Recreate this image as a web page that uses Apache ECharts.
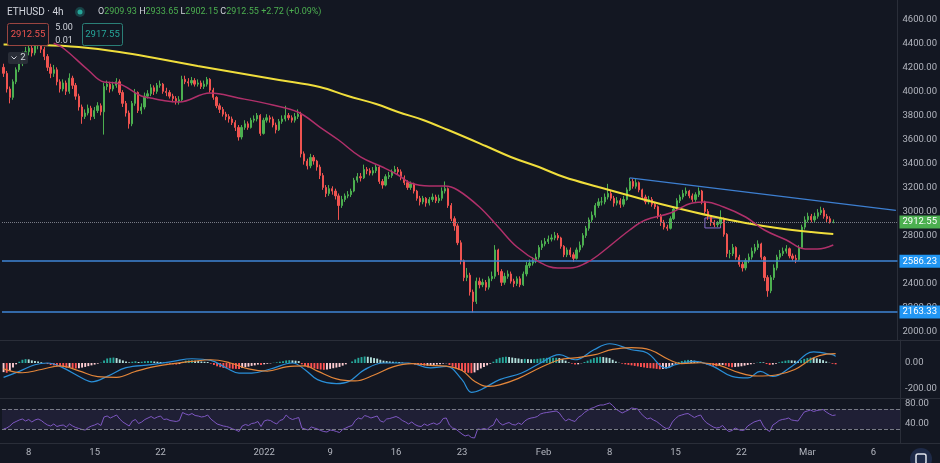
<!DOCTYPE html>
<html>
<head>
<meta charset="utf-8">
<title>ETHUSD 4h</title>
<script src="https://cdn.jsdelivr.net/npm/echarts@6/dist/echarts.min.js"></script>
<style>
  html, body { margin: 0; padding: 0; background: #131722; }
  #container { width: 940px; height: 463px; }
</style>
</head>
<body>
<div id="container"></div>
<script type="text/javascript">
// one bar = 8h, starting Dec 5 08:00, last bar Mar 3; empty slots on the right
var barCount = 286;
var firstOpen = 4200;

var closes = [
  4150,4020,3950,4080,4180,4230,4300,4330,4360,4320,
  4380,4400,4350,4290,4200,4150,4180,4080,4020,4070,
  4000,4110,4050,3960,3870,3790,3820,3860,3790,3840,
  3880,3830,4040,4060,4020,4050,4080,3990,3900,3820,
  3730,3900,3990,3840,3870,3960,3980,4030,4000,4050,
  4060,4000,3990,3960,3940,3920,3930,4100,4080,4070,
  4090,4060,4070,4040,4060,4100,4010,3950,3880,3850,
  3810,3790,3770,3740,3700,3620,3700,3730,3700,3760,
  3770,3800,3650,3760,3780,3770,3720,3680,3750,3770,
  3800,3780,3760,3790,3810,3480,3420,3380,3450,3420,
  3370,3300,3200,3150,3190,3170,3130,3050,3100,3130,
  3140,3170,3260,3290,3280,3350,3340,3320,3340,3370,
  3250,3220,3290,3300,3330,3350,3330,3280,3240,3200,
  3230,3170,3110,3080,3110,3070,3100,3120,3090,3110,
  3170,3190,3050,2940,2880,2740,2590,2450,2470,2330,
  2250,2420,2390,2410,2370,2440,2460,2680,2500,2410,
  2460,2480,2420,2400,2440,2390,2480,2550,2570,2590,
  2620,2700,2730,2750,2770,2780,2800,2780,2710,2640,
  2680,2640,2610,2680,2720,2800,2860,2930,2970,3050,
  3080,3080,3120,3150,3110,3070,3090,3060,3100,3180,
  3250,3210,3240,3180,3120,3080,3100,3060,3040,2960,
  2910,2870,2860,2940,3020,3090,3120,3150,3170,3130,
  3100,3140,3170,3080,3000,2960,2910,2890,2900,2940,
  2810,2650,2650,2700,2620,2560,2530,2590,2620,2670,
  2700,2730,2620,2450,2340,2450,2530,2620,2650,2670,
  2690,2630,2610,2600,2700,2870,2930,2960,2930,2960,
  2990,3010,2960,2940,2909.93,2912.55
];

var highs = [
  4230,4170,4040,4100,4200,4260,4330,4370,4400,4390,
  4420,4450,4420,4370,4310,4230,4220,4200,4100,4100,
  4090,4150,4130,4070,3980,3890,3850,3890,3880,3870,
  3910,3900,4070,4090,4080,4080,4110,4100,4010,3920,
  3840,3920,4020,4000,3900,3990,4010,4060,4050,4070,
  4090,4070,4030,4010,3980,3960,3960,4130,4130,4110,
  4120,4110,4100,4090,4090,4120,4110,4030,3960,3900,
  3870,3830,3810,3790,3760,3720,3720,3760,3750,3780,
  3800,3820,3810,3780,3810,3800,3790,3740,3770,3800,
  3880,3820,3800,3820,3850,3830,3500,3440,3480,3470,
  3430,3390,3320,3220,3220,3210,3190,3150,3130,3150,
  3170,3190,3280,3320,3320,3390,3370,3360,3370,3390,
  3380,3270,3310,3330,3350,3380,3370,3350,3300,3260,
  3250,3240,3180,3130,3130,3120,3120,3150,3140,3140,
  3200,3250,3200,3070,2960,2900,2760,2600,2530,2490,
  2350,2450,2450,2440,2430,2460,2500,2720,2690,2520,
  2490,2510,2500,2440,2460,2460,2500,2580,2600,2620,
  2650,2720,2760,2780,2800,2810,2830,2820,2790,2720,
  2700,2700,2660,2700,2750,2820,2880,2950,3000,3070,
  3110,3120,3150,3230,3170,3130,3120,3110,3130,3200,
  3280,3270,3270,3250,3190,3140,3130,3120,3080,3050,
  2980,2930,2890,2960,3040,3110,3140,3180,3200,3180,
  3150,3160,3200,3180,3090,3020,2970,2930,2920,3010,
  2950,2820,2680,2730,2710,2640,2580,2610,2650,2700,
  2730,2760,2740,2630,2470,2470,2560,2640,2680,2700,
  2720,2700,2650,2640,2720,2890,2960,2990,2980,2990,
  3020,3040,3030,2980,2960,2933.65
];

var lows = [
  4120,3990,3900,3930,4060,4160,4210,4280,4300,4290,
  4300,4350,4320,4260,4170,4110,4120,4050,3990,4000,
  3970,3980,4020,3930,3840,3730,3770,3800,3760,3770,
  3820,3800,3640,4010,3990,4000,4030,3970,3870,3790,
  3690,3710,3880,3820,3810,3850,3940,3960,3970,3980,
  4030,3980,3960,3940,3910,3890,3890,3920,4060,4040,
  4050,4040,4040,4020,4020,4040,3990,3930,3860,3820,
  3790,3760,3740,3720,3670,3590,3600,3680,3680,3690,
  3740,3750,3630,3640,3740,3740,3700,3650,3670,3730,
  3750,3760,3740,3740,3770,3450,3390,3350,3360,3390,
  3340,3270,3180,3120,3130,3140,3100,2930,3030,3080,
  3110,3120,3160,3240,3250,3270,3310,3300,3300,3320,
  3230,3190,3210,3270,3280,3320,3310,3260,3220,3180,
  3180,3150,3090,3050,3060,3040,3050,3080,3070,3070,
  3090,3150,3030,2920,2840,2720,2560,2420,2420,2300,
  2160,2230,2360,2370,2340,2350,2420,2440,2470,2380,
  2390,2440,2400,2370,2380,2370,2380,2460,2530,2550,
  2570,2600,2680,2710,2730,2750,2760,2760,2690,2620,
  2620,2620,2580,2600,2660,2700,2780,2840,2910,2950,
  3030,3050,3060,3100,3090,3040,3050,3030,3040,3090,
  3170,3190,3190,3160,3100,3060,3060,3040,3020,2940,
  2880,2850,2840,2850,2930,3010,3070,3100,3130,3110,
  3080,3080,3120,3060,2980,2930,2880,2870,2870,2880,
  2790,2620,2610,2630,2600,2540,2500,2510,2570,2600,
  2650,2680,2600,2420,2290,2320,2430,2510,2600,2630,
  2650,2610,2590,2570,2590,2690,2850,2910,2910,2910,
  2940,2970,2940,2910,2900,2902.15
];

// moving averages as [bar, price]
var maSlow = [[0,4390],[12,4386],[24,4369],[37,4328],[50,4269],[62,4211],[75,4153],[88,4095],
  [101,4036],[110,3961],[119,3895],[126,3828],[134,3762],[142,3678],[154,3545],[162,3454],
  [171,3370],[179,3287],[190,3204],[205,3096],[215,3029],[226,2962],[237,2904],[247,2863],
  [258,2829],[265,2813]];
var maFast = [[16,4400],[19,4361],[27,4178],[32,4078],[36,4070],[44,3961],[47,3945],[50,3928],
  [56,3911],[66,3986],[75,3945],[86,3886],[94,3828],[101,3703],[107,3595],[114,3454],[121,3370],
  [126,3304],[130,3237],[136,3212],[141,3212],[145,3179],[152,3037],[158,2871],[164,2704],
  [171,2580],[177,2530],[181,2530],[186,2571],[190,2638],[200,2846],[205,2929],[213,2987],
  [220,3071],[224,3079],[230,3037],[237,2954],[243,2846],[250,2763],[256,2688],[260,2688],[265,2721]];

var macdLine = [[0,-110],[5,-64],[10,-13],[14,0],[18,-26],[26,-128],[28,-145],[33,-103],[39,-36],
  [47,-13],[54,13],[60,33],[66,20],[71,-38],[75,-77],[79,-77],[85,-46],[92,0],[96,-51],[100,-128],
  [106,-158],[110,-141],[115,-51],[121,0],[129,0],[136,-38],[141,-26],[146,-128],[149,-225],
  [152,-205],[158,-128],[165,-77],[171,0],[177,64],[182,25],[188,102],[193,148],[200,102],
  [205,77],[211,-38],[214,-13],[220,13],[226,-26],[232,-103],[237,-115],[241,-64],[245,-103],
  [251,-26],[258,85],[264,64],[265,51]];
var signalLine = [[0,-45],[6,-75],[12,-50],[18,-22],[24,-60],[30,-105],[36,-110],[42,-65],
  [48,-28],[54,-5],[60,12],[66,25],[72,2],[78,-45],[84,-62],[90,-30],[96,-22],[100,-62],
  [106,-122],[112,-138],[118,-92],[124,-30],[130,-5],[136,-18],[141,-24],[146,-58],[150,-140],
  [154,-180],[158,-168],[164,-118],[171,-35],[177,25],[182,40],[188,62],[194,105],[200,118],
  [206,100],[212,25],[216,-5],[222,2],[228,-18],[234,-72],[240,-100],[246,-92],[252,-50],
  [258,40],[262,68],[265,72]];
var macdHist = [
  -70,-75,-60,-35,-10,10,25,30,28,20,
  15,12,6,-2,-8,-15,-18,-25,-30,-32,
  -36,-33,-38,-42,-40,-35,-30,-24,-18,-12,
  -5,3,20,35,40,42,38,28,20,12,
  5,10,14,8,10,14,15,16,12,10,
  8,4,-2,-6,-10,-12,-8,10,18,20,
  22,18,16,12,10,8,-5,-15,-25,-32,
  -38,-40,-42,-44,-45,-46,-38,-32,-28,-22,
  -18,-12,-15,-10,-6,-3,2,5,10,14,
  20,22,20,18,15,-10,-25,-35,-38,-42,
  -46,-50,-52,-50,-45,-40,-35,-30,-20,-10,
  0,12,28,40,46,50,48,44,38,34,
  25,18,15,12,10,10,8,4,-2,-6,
  -8,-12,-15,-18,-20,-20,-18,-15,-12,-10,
  -5,-2,-15,-28,-40,-52,-62,-70,-75,-78,
  -72,-55,-42,-30,-18,-5,10,30,40,45,
  48,46,42,38,35,30,32,30,28,30,
  32,35,38,40,40,40,40,38,30,18,
  5,-5,-12,-10,-2,8,18,28,38,44,
  48,46,42,38,25,12,2,-5,-10,-14,
  -18,-22,-26,-30,-34,-38,-40,-42,-45,-48,
  -46,-42,-35,-20,-5,8,15,20,24,22,
  18,14,10,-2,-12,-18,-22,-25,-20,-15,
  -20,-28,-32,-30,-28,-25,-20,-15,-10,-4,
  2,8,5,-8,-15,-12,-5,5,12,18,
  22,20,18,16,22,32,38,42,40,36,
  30,22,12,2,-6,-10
];

var rsi = [
  30,32,36,42,45,48,50,46,49,44,
  48,50,47,42,38,36,40,35,37,38,
  34,40,36,33,31,29,28,33,36,38,
  41,37,54,56,52,55,58,50,44,40,
  36,46,49,41,44,49,52,55,51,54,
  56,49,50,47,46,45,47,63,60,58,
  61,57,56,54,55,58,50,45,40,38,
  36,35,33,30,28,25,36,39,37,41,
  42,45,35,46,48,47,43,40,47,49,
  58,52,49,51,53,32,30,28,34,32,
  30,27,25,24,28,27,25,23,29,32,
  35,37,47,52,50,57,55,52,54,56,
  46,44,50,51,53,55,52,47,44,40,
  44,39,36,35,40,37,40,42,39,42,
  51,52,38,32,30,25,20,16,18,13,
  12,30,29,31,29,35,38,51,42,38,
  41,43,39,38,42,39,46,50,52,53,
  55,60,62,63,64,65,66,62,53,46,
  50,47,45,53,57,63,67,71,73,76,
  78,78,80,82,77,70,66,62,65,68,
  72,71,70,61,55,50,52,48,45,40,
  35,31,32,44,51,56,58,60,61,57,
  53,56,58,48,42,38,34,32,33,37,
  30,25,27,32,29,27,28,36,40,44,
  46,48,36,29,25,38,42,47,49,50,
  52,48,47,46,55,64,66,68,65,67,
  68,69,64,60,57,58
];

var tickIndex = [8, 29, 50, 83, 104, 125, 146, 172, 193, 214, 235, 256, 277];
var tickText = ['8', '15', '22', '2022', '9', '16', '23', 'Feb', '8', '15', '22', 'Mar', '6'];

var levelLines = [2586.23, 2163.33];
var lastPrice = 2912.55;
var trendLine = [[200, 3280], [285, 3010]];
var boxArea = [[224, 2946], [229, 2863]];

var font = 'Roboto, "Liberation Sans", sans-serif';
var axisText = '#b2b5be';
var upColor = '#4caf50', downColor = '#ef5350';

var cats = [];
for (var i = 0; i < barCount; i++) cats.push('b' + i);

var candles = [];
for (var i = 0; i < closes.length; i++) {
    var o = i === 0 ? firstOpen : closes[i - 1];
    candles.push([o, closes[i], lows[i], highs[i]]);
}

function xAxisFor(idx, showLabels) {
    return {
        type: 'category', gridIndex: idx, data: cats,
        axisLine: { show: false }, axisTick: { show: false }, splitLine: { show: false },
        axisLabel: {
            show: showLabels, color: axisText, fontSize: 9.5, fontFamily: font, margin: 5,
            interval: function (index) { return tickIndex.indexOf(index) >= 0; },
            formatter: function (v, index) {
                var k = tickIndex.indexOf(index);
                return k >= 0 ? tickText[k] : '';
            }
        }
    };
}

function yAxisFor(idx, min, max, split, show) {
    return {
        type: 'value', gridIndex: idx, position: 'right', min: min, max: max, splitNumber: split,
        scale: true,
        axisLine: { show: true, lineStyle: { color: '#2a2e39' } },
        axisTick: { show: false }, splitLine: { show: false },
        axisLabel: {
            color: axisText, fontSize: 9.5, fontFamily: font, margin: 5,
            showMinLabel: false, showMaxLabel: false,
            formatter: function (v) { return show(v) ? v.toFixed(2) : ''; }
        }
    };
}

function levelLabel(text, bg) {
    return {
        show: true, position: 'end', formatter: text, distance: 2,
        color: '#ffffff', backgroundColor: bg, padding: [2, 3, 1, 3],
        fontSize: 9.5, fontFamily: font
    };
}

var markLines = [
    { yAxis: lastPrice, lineStyle: { color: '#787b86', type: 'dotted', width: 1 }, label: levelLabel(lastPrice.toFixed(2), '#4caf50') }
];
levelLines.forEach(function (p) {
    markLines.push({ yAxis: p, lineStyle: { color: '#3f86d6', type: 'solid', width: 1.5 }, label: levelLabel(p.toFixed(2), '#2196f3') });
});
markLines.push([
    { coord: trendLine[0], lineStyle: { color: '#3d7fd1', type: 'solid', width: 1.2 }, label: { show: false } },
    { coord: trendLine[1] }
]);

var dom = document.getElementById('container');
var myChart = echarts.init(dom);

var option = {
    backgroundColor: '#131722',
    animation: false,
    grid: [
        { left: 2, right: 40, top: 0, height: 340 },
        { left: 2, right: 40, top: 340, height: 58 },
        { left: 2, right: 40, top: 398, height: 45 }
    ],
    xAxis: [xAxisFor(0, false), xAxisFor(1, false), xAxisFor(2, true)],
    yAxis: [
        yAxisFor(0, 1930.3, 4760.5, 14, function (v) { return v % 200 === 0; }),
        yAxisFor(1, -269, 177, 4, function (v) { return v % 200 === 0; }),
        yAxisFor(2, 2, 92, 4, function (v) { return v === 40 || v === 80; })
    ],
    series: [
        {
            name: 'ETHUSD', type: 'candlestick', xAxisIndex: 0, yAxisIndex: 0,
            data: candles, barWidth: '55%',
            itemStyle: { color: upColor, color0: downColor, borderColor: upColor, borderColor0: downColor, borderWidth: 1 },
            markLine: { silent: true, symbol: ['none', 'none'], data: markLines },
            markArea: {
                silent: true,
                data: [[
                    { coord: boxArea[0], itemStyle: { color: 'rgba(0,0,0,0)', borderColor: '#8a6fd1', borderWidth: 1 } },
                    { coord: boxArea[1] }
                ]]
            }
        },
        {
            name: 'MA slow', type: 'line', xAxisIndex: 0, yAxisIndex: 0, data: maSlow,
            smooth: 0.4, showSymbol: false, z: 5,
            lineStyle: { color: '#f0de3c', width: 2 }
        },
        {
            name: 'MA fast', type: 'line', xAxisIndex: 0, yAxisIndex: 0, data: maFast,
            smooth: 0.4, showSymbol: false, z: 5,
            lineStyle: { color: '#b0306a', width: 1.5 }
        },
        {
            name: 'Histogram', type: 'bar', xAxisIndex: 1, yAxisIndex: 1, data: macdHist, barWidth: '60%',
            itemStyle: {
                color: function (p) {
                    var v = p.value;
                    var prev = p.dataIndex > 0 ? macdHist[p.dataIndex - 1] : v;
                    if (v >= 0) return v >= prev ? '#26a69a' : '#b2dfdb';
                    return v < prev ? '#ff5252' : '#ffcdd2';
                }
            }
        },
        {
            name: 'MACD', type: 'line', xAxisIndex: 1, yAxisIndex: 1, data: macdLine,
            smooth: 0.4, showSymbol: false, z: 4, lineStyle: { color: '#2a8fd8', width: 1.2 }
        },
        {
            name: 'Signal', type: 'line', xAxisIndex: 1, yAxisIndex: 1, data: signalLine,
            smooth: 0.4, showSymbol: false, z: 4, lineStyle: { color: '#e3863a', width: 1.2 }
        },
        {
            name: 'RSI', type: 'line', xAxisIndex: 2, yAxisIndex: 2, data: rsi,
            showSymbol: false, lineStyle: { color: '#7e57c2', width: 1 },
            markArea: {
                silent: true,
                data: [[{ yAxis: 70, itemStyle: { color: 'rgba(126,87,194,0.12)' } }, { yAxis: 30 }]]
            },
            markLine: {
                silent: true, symbol: ['none', 'none'], label: { show: false },
                lineStyle: { color: '#787b86', type: 'dashed', width: 1 },
                data: [{ yAxis: 70 }, { yAxis: 30 }]
            }
        }
    ],
    graphic: [
        { type: 'line', shape: { x1: 0, y1: 340.5, x2: 940, y2: 340.5 }, style: { stroke: '#2a2e39', lineWidth: 1 }, z: 10 },
        { type: 'line', shape: { x1: 0, y1: 398.5, x2: 940, y2: 398.5 }, style: { stroke: '#2a2e39', lineWidth: 1 }, z: 10 },
        { type: 'line', shape: { x1: 0, y1: 443.5, x2: 940, y2: 443.5 }, style: { stroke: '#2a2e39', lineWidth: 1 }, z: 10 },
        { type: 'text', x: 7, y: 7, z: 20, style: { text: 'ETHUSD · 4h', fill: '#d1d4dc', font: '10px ' + font } },
        { type: 'circle', shape: { cx: 80, cy: 12, r: 5 }, style: { fill: 'rgba(38,166,154,0.3)' }, z: 20 },
        { type: 'circle', shape: { cx: 80, cy: 12, r: 2.5 }, style: { fill: '#26a69a' }, z: 20 },
        {
            type: 'text', x: 98, y: 7, z: 20,
            style: {
                text: '{l|O}{v|2909.93} {l|H}{v|2933.65} {l|L}{v|2902.15} {l|C}{v|2912.55} {v|+2.72 (+0.09%)}',
                font: '9px ' + font,
                rich: { l: { fill: '#d1d4dc', font: '9px ' + font }, v: { fill: '#4caf50', font: '9px ' + font } }
            }
        },
        { type: 'rect', shape: { x: 7.5, y: 23.5, width: 41, height: 22, r: 2 }, style: { fill: '#131722', stroke: '#9a4540', lineWidth: 1 }, z: 20 },
        { type: 'text', x: 28, y: 35, z: 21, style: { text: '2912.55', fill: '#ef5350', font: '9.5px ' + font, align: 'center', verticalAlign: 'middle' } },
        { type: 'text', x: 64, y: 28, z: 21, style: { text: '5.00', fill: '#d1d4dc', font: '9px ' + font, align: 'center', verticalAlign: 'middle' } },
        { type: 'text', x: 64, y: 41, z: 21, style: { text: '0.01', fill: '#d1d4dc', font: '9px ' + font, align: 'center', verticalAlign: 'middle' } },
        { type: 'rect', shape: { x: 82.5, y: 23.5, width: 40, height: 22, r: 2 }, style: { fill: '#131722', stroke: '#2a7f77', lineWidth: 1 }, z: 20 },
        { type: 'text', x: 102.5, y: 35, z: 21, style: { text: '2917.55', fill: '#26a69a', font: '9.5px ' + font, align: 'center', verticalAlign: 'middle' } },
        { type: 'rect', shape: { x: 8, y: 52, width: 20, height: 12, r: 2 }, style: { fill: 'rgba(42,46,57,0.95)' }, z: 20 },
        { type: 'polyline', shape: { points: [[11.5, 56.5], [14, 59], [16.5, 56.5]] }, style: { stroke: '#d1d4dc', lineWidth: 1, fill: null }, z: 21 },
        { type: 'text', x: 23, y: 58, z: 21, style: { text: '2', fill: '#d1d4dc', font: '9.5px ' + font, align: 'center', verticalAlign: 'middle' } },
        { type: 'circle', shape: { cx: 921, cy: 459, r: 11 }, style: { fill: '#1e2a48' }, z: 20 },
        { type: 'rect', shape: { x: 916, y: 454, width: 10, height: 10, r: 2 }, style: { fill: null, stroke: '#e0e3eb', lineWidth: 1.5 }, z: 21 }
    ]
};

if (option && typeof option === 'object') {
    myChart.setOption(option, true);
}
</script>
</body>
</html>
